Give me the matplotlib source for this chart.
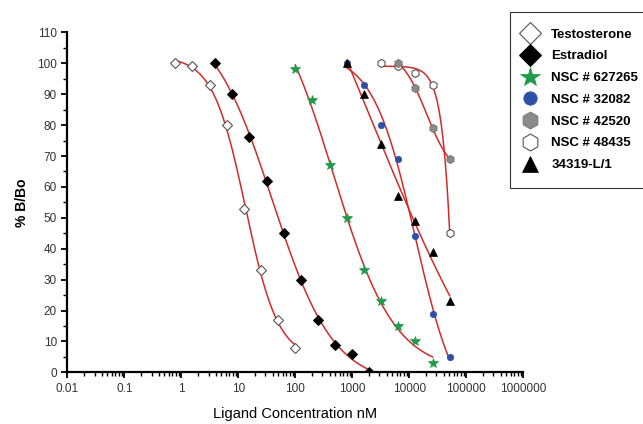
import numpy as np
import matplotlib
matplotlib.use('Agg')
import matplotlib.pyplot as plt
from matplotlib.ticker import FixedLocator, LogLocator, NullFormatter, MultipleLocator

plt.rcParams['font.family'] = ['Liberation Sans', 'DejaVu Sans']

# ligand concentrations (nM) and % B/Bo
testo_x = [0.78, 1.56, 3.13, 6.25, 12.5, 25, 50, 100]
testo_y = [100, 99, 93, 80, 53, 33, 17, 8]

estra_x = [3.9, 7.8, 15.6, 31.25, 62.5, 125, 250, 500, 1000, 2000]
estra_y = [100, 90, 76, 62, 45, 30, 17, 9, 6, 0]

nsc627265_x = [100, 200, 400, 800, 1600, 3200, 6400, 12800, 25600]
nsc627265_y = [98, 88, 67, 50, 33, 23, 15, 10, 3]

nsc32082_x = [800, 1600, 3200, 6400, 12800, 25600, 51200]
nsc32082_y = [100, 93, 80, 69, 44, 19, 5]

nsc42520_x = [6400, 12800, 25600, 51200]
nsc42520_y = [100, 92, 79, 69]

nsc48435_x = [3200, 6400, 12800, 25600, 51200]
nsc48435_y = [100, 99, 97, 93, 45]

l34319_x = [800, 1600, 3200, 6400, 12800, 25600, 51200]
l34319_y = [100, 90, 74, 57, 49, 39, 23]

xticks = [0.01, 0.1, 1, 10, 100, 1000, 10000, 100000, 1000000]
xticklabels = ['0.01', '0.1', '1', '10', '100', '1000', '10000', '100000', '1000000']


def fit4pl(x, y):
    # 4-parameter logistic, grid over (log ic50, hill), top/bottom by least squares
    lx = np.log10(np.asarray(x, float))
    y = np.asarray(y, float)
    c = np.linspace(lx.min() - 1, lx.max() + 1, 400)[:, None, None]
    h = np.linspace(0.3, 12, 300)[None, :, None]
    s = 1.0 / (1.0 + 10 ** (h * (lx[None, None, :] - c)))
    v = 1.0 - s
    uu = (s * s).sum(-1); uv = (s * v).sum(-1); vv = (v * v).sum(-1)
    uy = (s * y).sum(-1); vy = (v * y).sum(-1)
    det = uu * vv - uv * uv
    det[np.abs(det) < 1e-12] = np.nan
    top = (uy * vv - vy * uv) / det
    bot = (uu * vy - uv * uy) / det
    pred = top[..., None] * s + bot[..., None] * v
    err = ((pred - y) ** 2).sum(-1)
    err = np.where(np.isnan(err), np.inf, err)
    i, j = np.unravel_index(np.argmin(err), err.shape)
    return c[i, 0, 0], h[0, j, 0], top[i, j], bot[i, j]


series = [
    ('Testosterone', testo_x, testo_y, dict(marker='D', mfc='white', mec='#555555', ms=5.2, mew=0.8)),
    ('Estradiol', estra_x, estra_y, dict(marker='D', mfc='black', mec='black', ms=5.2, mew=0.7)),
    ('NSC # 627265', nsc627265_x, nsc627265_y, dict(marker='*', mfc='#1e9a4a', mec='#1e9a4a', ms=7, mew=0.5)),
    ('NSC # 32082', nsc32082_x, nsc32082_y, dict(marker='o', mfc='#2d4fa6', mec='#2d4fa6', ms=4.6, mew=0.5)),
    ('NSC # 48435', nsc48435_x, nsc48435_y, dict(marker='h', mfc='white', mec='#555555', ms=5.8, mew=0.8)),
    ('NSC # 42520', nsc42520_x, nsc42520_y, dict(marker='h', mfc='#8a8a8a', mec='#777777', ms=5.8, mew=0.7)),
    ('34319-L/1', l34319_x, l34319_y, dict(marker='^', mfc='black', mec='black', ms=5.4, mew=0.5)),
]

fig = plt.figure(figsize=(6.43, 4.24), dpi=100)
ax = fig.add_axes([0.1047, 0.1219, 0.7091, 0.8017])

handles = {}
for name, x, y, st in series:
    c, hh, top, bot = fit4pl(x, y)
    xs = np.logspace(np.log10(min(x)), np.log10(max(x)), 200)
    ys = bot + (top - bot) / (1 + 10 ** (hh * (np.log10(xs) - c)))
    ax.plot(xs, ys, color='#d42a2a', lw=1.1, zorder=2)
    handles[name], = ax.plot(x, y, ls='none', zorder=3, **st)

ax.set_xscale('log')
ax.set_xlim(0.01, 1000000)
ax.set_ylim(0, 110)

ax.xaxis.set_major_locator(FixedLocator(xticks))
ax.set_xticklabels(xticklabels)
ax.xaxis.set_minor_locator(LogLocator(base=10, subs=np.arange(2, 10), numticks=20))
ax.xaxis.set_minor_formatter(NullFormatter())
ax.yaxis.set_major_locator(MultipleLocator(10))
ax.yaxis.set_minor_locator(MultipleLocator(5))

for side in ['top', 'right']:
    ax.spines[side].set_visible(False)
for side in ['left', 'bottom']:
    ax.spines[side].set_linewidth(1.6)
ax.tick_params(which='major', length=4, width=1.3, labelsize=8.5, colors='black', labelcolor='#333333')
ax.tick_params(which='minor', length=3, width=1.0)

ax.set_xlabel('Ligand Concentration nM', fontsize=10.5, labelpad=9)
ax.set_ylabel('% B/Bo', fontsize=10, fontweight='bold', labelpad=6)

order = ['Testosterone', 'Estradiol', 'NSC # 627265', 'NSC # 32082',
         'NSC # 42520', 'NSC # 48435', '34319-L/1']
leg = fig.legend([handles[n] for n in order], order, loc='upper left',
                 bbox_to_anchor=(510 / 643, 1 - 12 / 424), markerscale=2.1,
                 frameon=True, fancybox=False, edgecolor='black',
                 prop={'size': 9.5, 'weight': 'bold'}, labelspacing=0.72,
                 handletextpad=1.33, borderpad=1.25, borderaxespad=0,
                 handlelength=0.55)
leg.get_frame().set_linewidth(0.8)

fig.savefig('out.png', dpi=100)
